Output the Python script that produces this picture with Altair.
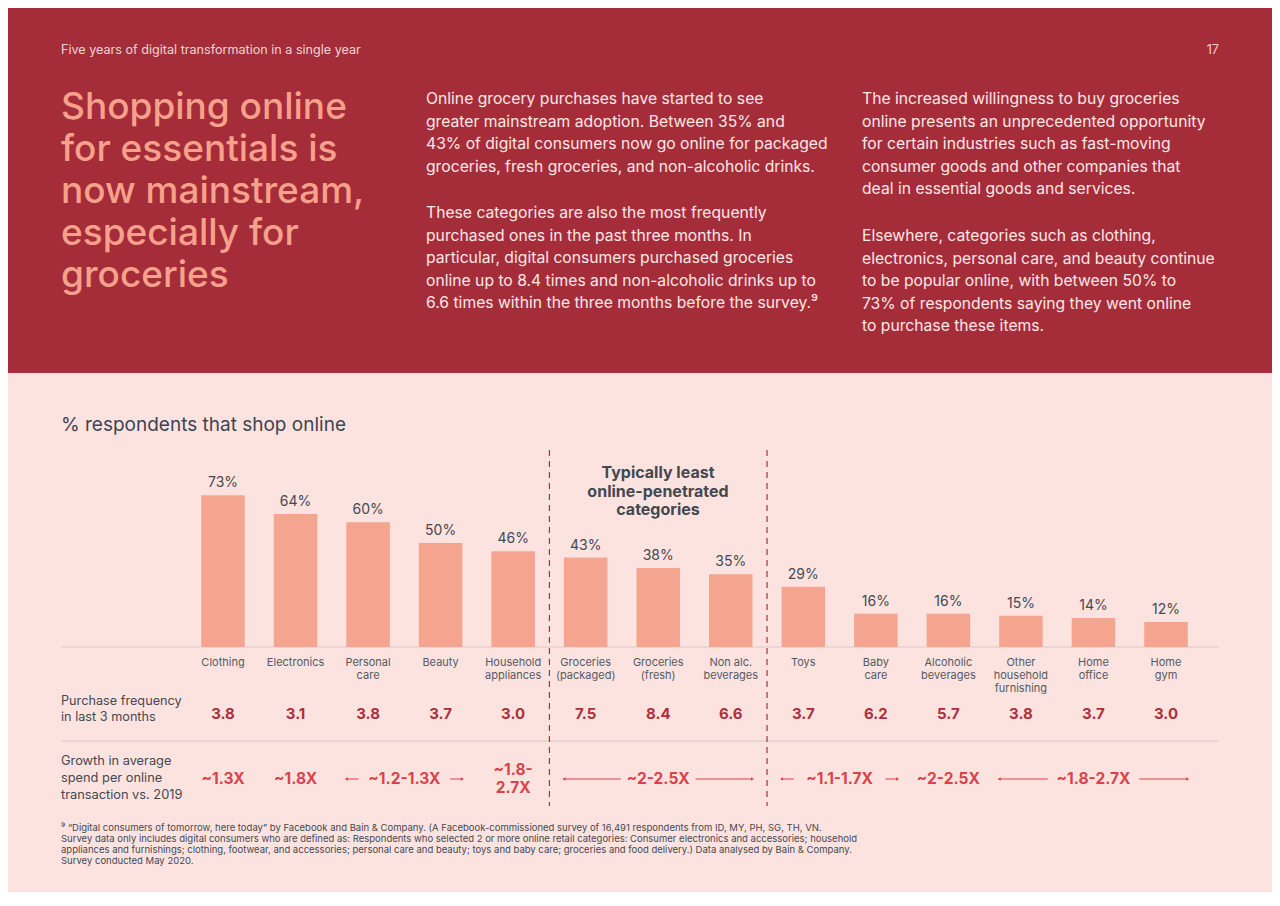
import altair as alt
import pandas as pd

# ---- data ----
categories = ["Clothing", "Electronics", "Personal\ncare", "Beauty", "Household\nappliances",
              "Groceries\n(packaged)", "Groceries\n(fresh)", "Non alc.\nbeverages", "Toys",
              "Baby\ncare", "Alcoholic\nbeverages", "Other\nhousehold\nfurnishing",
              "Home\noffice", "Home\ngym"]
shop_pct = [73, 64, 60, 50, 46, 43, 38, 35, 29, 16, 16, 15, 14, 12]
purchase_freq = [3.8, 3.1, 3.8, 3.7, 3.0, 7.5, 8.4, 6.6, 3.7, 6.2, 5.7, 3.8, 3.7, 3.0]

growth_labels = ["~1.3X", "~1.8X", "~1.2-1.3X", "~1.8-\n2.7X", "~2-2.5X", "~1.1-1.7X", "~2-2.5X", "~1.8-2.7X"]
growth_first = [0, 1, 2, 4, 5, 8, 10, 11]   # first category index the label covers
growth_last = [0, 1, 3, 4, 7, 9, 10, 13]    # last category index the label covers

group_ends = [4, 7]  # last category of a group, dashed divider after it

header = "Five years of digital transformation in a single year"
page_no = "17"
headline = ["Shopping online", "for essentials is", "now mainstream,", "especially for", "groceries"]
para_left_1 = ["Online grocery purchases have started to see",
               "greater mainstream adoption. Between 35% and",
               "43% of digital consumers now go online for packaged",
               "groceries, fresh groceries, and non-alcoholic drinks."]
para_left_2 = ["These categories are also the most frequently",
               "purchased ones in the past three months. In",
               "particular, digital consumers purchased groceries",
               "online up to 8.4 times and non-alcoholic drinks up to",
               "6.6 times within the three months before the survey.\u2079"]
para_right_1 = ["The increased willingness to buy groceries",
                "online presents an unprecedented opportunity",
                "for certain industries such as fast-moving",
                "consumer goods and other companies that",
                "deal in essential goods and services."]
para_right_2 = ["Elsewhere, categories such as clothing,",
                "electronics, personal care, and beauty continue",
                "to be popular online, with between 50% to",
                "73% of respondents saying they went online",
                "to purchase these items."]
chart_title = "% respondents that shop online"
callout = ["Typically least", "online-penetrated", "categories"]
freq_title = ["Purchase frequency", "in last 3 months"]
growth_title = ["Growth in average", "spend per online", "transaction vs. 2019"]
footnote = ["\u2079 \u201cDigital consumers of tomorrow, here today\u201d by Facebook and Bain & Company. (A Facebook-commissioned survey of 16,491 respondents from ID, MY, PH, SG, TH, VN.",
            "Survey data only includes digital consumers who are defined as: Respondents who selected 2 or more online retail categories: Consumer electronics and accessories; household",
            "appliances and furnishings; clothing, footwear, and accessories; personal care and beauty; toys and baby care; groceries and food delivery.) Data analysed by Bain & Company.",
            "Survey conducted May 2020."]

# ---- styling ----
FONT = "Inter"
BAND = "#A52D3A"
BG = "#FCE3E0"
SALMON = "#F4A48F"
DARK = "#444950"
FREQ_RED = "#AE2F3B"
GROWTH_RED = "#D8434A"
LINE = "#D9CACA"
STEP = 72.54

xs = alt.Scale(domain=[0, 13], range=[215, 1158], nice=False, zero=False)
ys = alt.Scale(domain=[0, 100], range=[639, 431], nice=False)

df = pd.DataFrame({"idx": range(len(categories)), "cat": categories,
                   "pct": shop_pct, "freq": purchase_freq})
df["x0"] = df["idx"] - 0.3
df["x1"] = df["idx"] + 0.3
df["pct_label"] = df["pct"].astype(str) + "%"

g = pd.DataFrame({"label": growth_labels, "first": growth_first, "last": growth_last})
g["center"] = (g["first"] + g["last"]) / 2
g["x0"] = g["first"] - 0.3
g["x1"] = g["last"] + 0.3
g["gap"] = (g["label"].str.len() * 4.2 + 8) / STEP
g["l_end"] = g["center"] - g["gap"]
g["r_start"] = g["center"] + g["gap"]
spans = g[g["first"] != g["last"]]
multi = g["label"].str.contains("\n")

div = pd.DataFrame({"pos": [e + 0.5 for e in group_ends]})
one = pd.DataFrame({"k": [0]})


def text_block(lines, x, y, size, color, weight="normal", lh=None, align="left", font=FONT):
    return alt.Chart(one).mark_text(
        align=align, baseline="alphabetic", font=font, fontSize=size,
        fontWeight=weight, color=color, lineHeight=lh or size * 1.2
    ).encode(x=alt.value(x), y=alt.value(y), text=alt.value(lines))


def growth_layer(data, y):
    return alt.Chart(data).mark_text(font=FONT, fontSize=15.5, fontWeight="bold", color=GROWTH_RED,
                                     baseline="middle", lineBreak="\n", lineHeight=18).encode(
        x=alt.X("center:Q", scale=xs, axis=None), y=alt.value(y), text="label:N")


band = alt.Chart(one).mark_rect(color=BAND).encode(
    x=alt.value(0), x2=alt.value(1264), y=alt.value(0), y2=alt.value(365))

hline = alt.Chart(pd.DataFrame({"yy": [639, 733]})).mark_rule(color=LINE, strokeWidth=1).encode(
    x=alt.value(53), x2=alt.value(1211), y=alt.Y("yy:Q", scale=None))

bars = alt.Chart(df).mark_rect(color=SALMON).encode(
    x=alt.X("x0:Q", scale=xs, axis=None), x2="x1:Q",
    y=alt.Y("pct:Q", scale=ys, axis=None), y2=alt.datum(0))

pct_text = alt.Chart(df).mark_text(font=FONT, fontSize=14, color=DARK, baseline="alphabetic", dy=-8).encode(
    x=alt.X("idx:Q", scale=xs, axis=None), y=alt.Y("pct:Q", scale=ys, axis=None), text="pct_label:N")

cat_text = alt.Chart(df).mark_text(font=FONT, fontSize=11, color="#555A62", baseline="top",
                                   lineBreak="\n", lineHeight=13).encode(
    x=alt.X("idx:Q", scale=xs, axis=None), y=alt.value(649), text="cat:N")

freq_text = alt.Chart(df).mark_text(font=FONT, fontSize=15, fontWeight="bold", color=FREQ_RED,
                                    baseline="middle").encode(
    x=alt.X("idx:Q", scale=xs, axis=None), y=alt.value(706), text=alt.Text("freq:Q", format=".1f"))

arrow_l = alt.Chart(spans).mark_rule(color=GROWTH_RED, strokeWidth=1).encode(
    x=alt.X("x0:Q", scale=xs, axis=None), x2="l_end:Q", y=alt.value(771))
arrow_r = alt.Chart(spans).mark_rule(color=GROWTH_RED, strokeWidth=1).encode(
    x=alt.X("r_start:Q", scale=xs, axis=None), x2="x1:Q", y=alt.value(771))
head_l = alt.Chart(spans).mark_point(shape="triangle-left", filled=True, size=12, color=GROWTH_RED, opacity=1).encode(
    x=alt.X("x0:Q", scale=xs, axis=None), y=alt.value(771))
head_r = alt.Chart(spans).mark_point(shape="triangle-right", filled=True, size=12, color=GROWTH_RED, opacity=1).encode(
    x=alt.X("x1:Q", scale=xs, axis=None), y=alt.value(771))

dividers = alt.Chart(div).mark_rule(color="#A8323E", strokeWidth=1.2, strokeDash=[6, 5]).encode(
    x=alt.X("pos:Q", scale=xs, axis=None), y=alt.value(442), y2=alt.value(798))

PARA = "#FBE7E7"
layers = [
    band, hline, dividers, bars, pct_text, cat_text, freq_text,
    arrow_l, arrow_r, head_l, head_r,
    growth_layer(g[~multi], 771), growth_layer(g[multi], 762),
    text_block(header, 53, 46, 12.6, "#F2D3D4"),
    text_block(page_no, 1211, 46, 12.6, "#F2D3D4", align="right"),
    text_block(headline, 53, 111, 37, "#F6A18C", weight=500, lh=42),
    text_block(para_left_1, 418, 96, 15.7, PARA, lh=22.6),
    text_block(para_left_2, 418, 210, 15.7, PARA, lh=22.6),
    text_block(para_right_1, 854, 96, 15.7, PARA, lh=22.6),
    text_block(para_right_2, 854, 233, 15.7, PARA, lh=22.6),
    text_block(chart_title, 53, 423, 19, "#3E4451"),
    text_block(callout, 650, 470, 16, DARK, weight="bold", lh=18.5, align="center"),
    text_block(freq_title, 53, 697, 12.7, DARK, lh=16),
    text_block(growth_title, 53, 757, 12.8, DARK, lh=17),
    text_block(footnote, 53, 823, 9.5, DARK, lh=11),
]

chart = alt.layer(*layers).properties(
    width=1264, height=884, padding=0,
    autosize=alt.AutoSizeParams(type="none"),
    background=BG,
).configure_view(strokeWidth=0)

chart.save("out.html", embed_options={"renderer": "svg", "actions": False})
